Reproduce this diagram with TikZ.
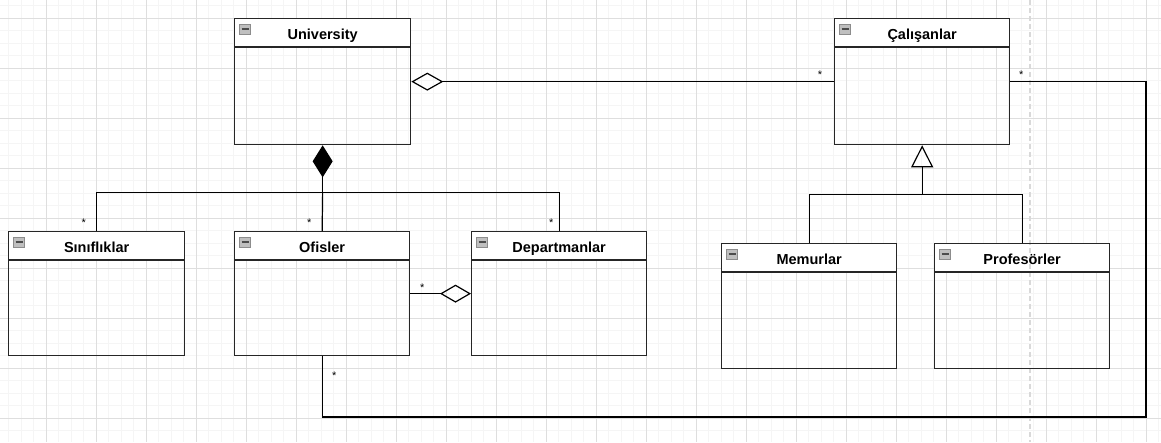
\documentclass[tikz,border=0pt]{standalone}
\usepackage{fontspec}
\setmainfont{Liberation Sans}
\usetikzlibrary{calc,arrows.meta,positioning}

\pgfdeclarelayer{gridlayer}
\pgfdeclarelayer{headfill}
\pgfdeclarelayer{pagebreak}
\pgfsetlayers{gridlayer,headfill,pagebreak,main}

\tikzset{
  classbody/.style={draw=black!85, line width=1.3pt, anchor=north west, inner sep=0pt},
  classline/.style={draw=black!85, line width=1.3pt},
  classtitle/.style={inner sep=0pt, text height=10.5pt, text depth=0pt, font=\fontsize{14.5}{16}\selectfont\bfseries},
  headicon/.style={draw=black!45, fill=black!25, line width=0.8pt, minimum width=11pt, minimum height=10pt, inner sep=0pt},
  conn/.style={line width=1.2pt, black},
  starlabel/.style={font=\fontsize{11}{11}\selectfont, inner sep=0pt},
  minorgrid/.style={line width=0.6pt, black!4},
  majorgrid/.style={line width=0.7pt, black!13},
}

% class box: (name)(x,y){width}{height}{title}
\def\umlclass(#1)(#2,#3)#4#5#6{%
  \node[classbody, minimum width=#4pt, minimum height=#5pt] (#1) at (#2,#3) {};
  \begin{pgfonlayer}{headfill}
    \fill[white] (#1.north west) rectangle ($(#1.north east)+(0,29)$);
  \end{pgfonlayer}
  \draw[classline] ($(#1.north west)+(0,29)$) -- ($(#1.north east)+(0,29)$);
  \node[classtitle] (#1-title) at ($(#1.north)+(0,15.8)$) {#6};
  \node[headicon] (#1-icon) at ($(#1.north west)+(11,11)$) {};
  \draw[black!70, line width=1.3pt] ($(#1-icon.center)+(-3.5,0)$) -- ($(#1-icon.center)+(3.5,0)$);
}

\begin{document}
\begin{tikzpicture}[x=1pt, y=-1pt]
  \useasboundingbox (0,0) rectangle (1161,442);

  %%%%% grid %%%%%
  \begin{pgfonlayer}{gridlayer}
    \fill[white] (0,0) rectangle (1161,442);
    \foreach \gx in {8.5,21,...,1161} \draw[minorgrid] (\gx,0) -- (\gx,442);
    \foreach \gy in {5.5,18,...,442} \draw[minorgrid] (0,\gy) -- (1161,\gy);
    \foreach \gx in {46,96,...,1146} \draw[majorgrid] (\gx,0) -- (\gx,442);
    \foreach \gy in {18,68,...,418} \draw[majorgrid] (0,\gy) -- (1161,\gy);
  \end{pgfonlayer}

  %%%%% classes %%%%%
  \umlclass(univ)(234,18){176}{126}{University}
  \umlclass(calisan)(834,18){175}{126}{Çalışanlar}
  \umlclass(sinif)(8,231){176}{124}{Sınıflıklar}
  \umlclass(ofis)(234,231){175}{124}{Ofisler}
  \umlclass(depart)(471,231){175}{124}{Departmanlar}
  \umlclass(memur)(721,243){175}{125}{Memurlar}
  \umlclass(prof)(934,243){175}{125}{Profesörler}

  % page break
  \begin{pgfonlayer}{pagebreak}
    \draw[black!15, line width=1.5pt, dash pattern=on 5pt off 3pt] (1030,0) -- (1030,442);
  \end{pgfonlayer}

  %%%%% connectors %%%%%
  \draw[conn, {Diamond[open, length=32pt, width=18pt]}-] (univ.east) -- (calisan.west);
  \node[starlabel] at ($(calisan.west)+(-14,-7)$) {*};

  \coordinate (compjoin) at ($(univ.south)+(0,47)$);
  \draw[conn, {Diamond[length=32pt, width=20pt]}-] (univ.south) -- (compjoin);
  \draw[conn] (sinif.north) |- (compjoin) -| (depart.north);
  \draw[conn] (compjoin) -- (ofis.north);
  \node[starlabel] at ($(sinif.north)+(-13,-8)$) {*};
  \node[starlabel] at ($(ofis.north)+(-13,-8)$) {*};
  \node[starlabel] at ($(depart.north)+(-8,-8)$) {*};

  \draw[conn, -{Diamond[open, length=31pt, width=18pt]}] (ofis.east) -- (depart.west);
  \node[starlabel] at ($(ofis.east)+(12,-6)$) {*};

  \coordinate (inhjoin) at ($(calisan.south)+(0,49)$);
  \draw[conn, {Triangle[open, length=22pt, width=22pt]}-] (calisan.south) -- (inhjoin);
  \draw[conn] (memur.north) |- (inhjoin) -| (prof.north);

  \coordinate (loopcorner) at (1146,417);
  \draw[conn] (calisan.east) -| (loopcorner) -| (ofis.south);
  \node[starlabel] at ($(calisan.east)+(11,-7)$) {*};
  \node[starlabel] at ($(ofis.south)+(12,19)$) {*};
\end{tikzpicture}
\end{document}
